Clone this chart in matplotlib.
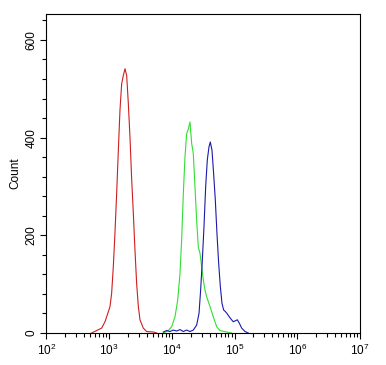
import numpy as np
import matplotlib
matplotlib.use("Agg")
import matplotlib.pyplot as plt
from matplotlib.ticker import LogLocator, MultipleLocator, FixedLocator

plt.rcParams['font.family'] = ['Liberation Sans', 'DejaVu Sans']
plt.rcParams['mathtext.default'] = 'regular'

# Data: log10 of fluorescence intensity and counts
red_log = [2.723, 2.802, 2.882, 2.935, 2.972, 3.015, 3.041, 3.068, 3.094, 3.121, 3.148, 3.174,
           3.201, 3.227, 3.254, 3.281, 3.307, 3.334, 3.360, 3.387, 3.413, 3.440, 3.467, 3.493,
           3.546, 3.599, 3.706, 3.759]
red_cnt = [0, 5, 10, 23, 37, 54, 81, 136, 204, 285, 374, 456, 510, 527, 541, 527, 470, 400, 316,
           245, 170, 101, 54, 27, 10, 3, 2, 0]

green_log = [3.865, 3.945, 3.998, 4.051, 4.094, 4.131, 4.157, 4.184, 4.210, 4.237, 4.264, 4.290,
             4.317, 4.343, 4.370, 4.396, 4.423, 4.450, 4.476, 4.503, 4.529, 4.556, 4.609, 4.662,
             4.715, 4.768, 4.875, 4.954]
green_cnt = [0, 5, 13, 33, 67, 122, 190, 285, 360, 408, 418, 432, 388, 367, 299, 231, 176, 163,
             136, 108, 88, 74, 54, 33, 13, 5, 2, 0]

blue_log = [3.865, 3.918, 3.971, 4.024, 4.078, 4.131, 4.184, 4.237, 4.290, 4.343, 4.396, 4.434,
            4.460, 4.487, 4.513, 4.540, 4.566, 4.593, 4.614, 4.641, 4.667, 4.694, 4.720, 4.747,
            4.774, 4.800, 4.827, 4.853, 4.880, 4.917, 4.954, 4.981, 5.013, 5.045, 5.077, 5.114,
            5.167, 5.220]
blue_cnt = [2, 5, 3, 6, 4, 7, 3, 6, 3, 6, 16, 40, 88, 149, 217, 299, 354, 381, 391, 374, 326,
            272, 204, 143, 95, 61, 47, 44, 40, 33, 27, 23, 25, 27, 20, 10, 3, 0]

fig = plt.figure(figsize=(3.86, 3.65), dpi=100)
ax = fig.add_axes([0.12, 0.0877, 0.8126, 0.8739])

ax.plot(10 ** np.array(red_log), red_cnt, color='#cc1f1f', lw=0.8)
ax.plot(10 ** np.array(green_log), green_cnt, color='#33dd33', lw=0.8)
ax.plot(10 ** np.array(blue_log), blue_cnt, color='#1a1aaa', lw=0.8)

ax.set_xscale('log')
ax.set_xlim(1e2, 1e7)
ax.set_ylim(0, 653)

ax.xaxis.set_major_locator(LogLocator(base=10, numticks=10))
ax.xaxis.set_minor_locator(LogLocator(base=10, subs=np.arange(2, 10), numticks=20))
ax.yaxis.set_major_locator(FixedLocator([0, 200, 400, 600]))
ax.yaxis.set_minor_locator(MultipleLocator(40))

ax.tick_params(axis='both', which='major', direction='out', length=4, width=0.8,
               labelsize=8.5, colors='black')
ax.tick_params(axis='both', which='minor', direction='out', length=2.6, width=0.8)
ax.tick_params(axis='y', which='major', labelrotation=90, pad=2.5)
ax.tick_params(axis='x', which='major', pad=3)
for lbl in ax.get_yticklabels():
    lbl.set_va('center')

ax.set_ylabel('Count', fontsize=8.5, labelpad=3)

for s in ax.spines.values():
    s.set_linewidth(0.8)
    s.set_color('black')

fig.savefig('out.png', dpi=100)
